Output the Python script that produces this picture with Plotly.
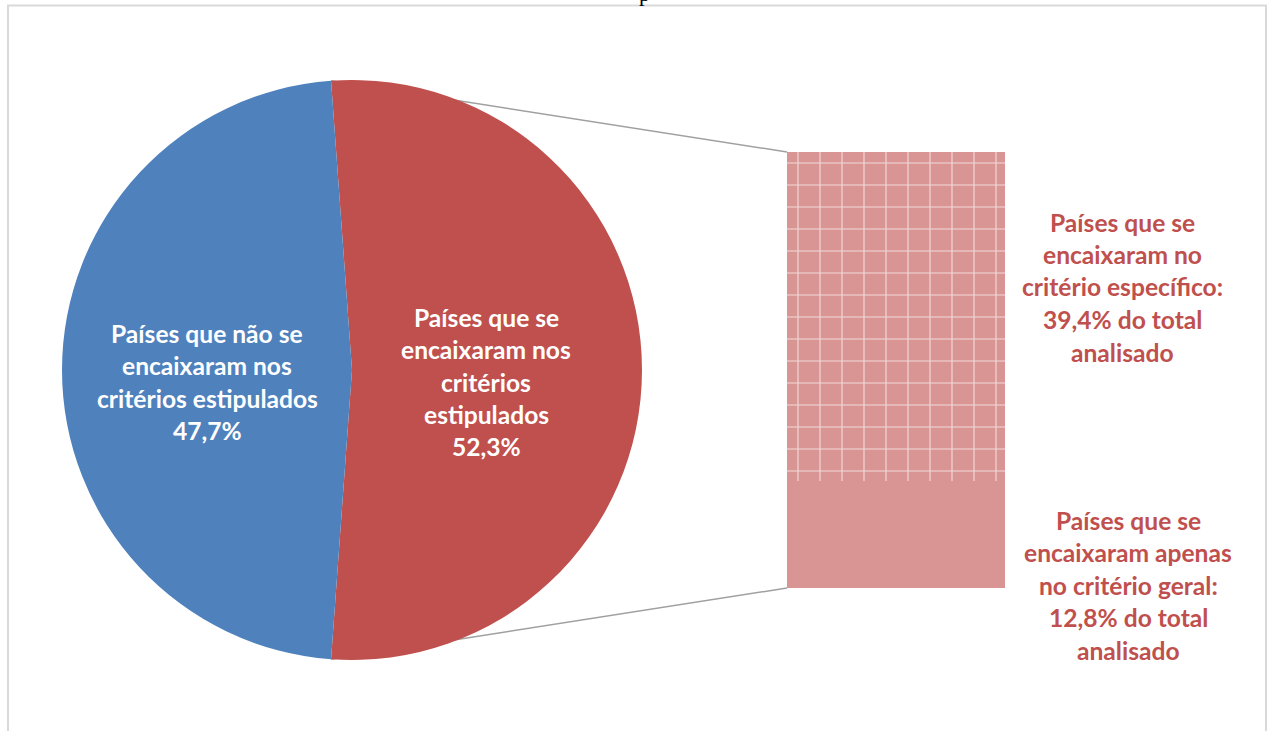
import math
import plotly.graph_objects as go

W, H = 1271, 731

# ---- data ----
pie_labels = ["Países que se<br>encaixaram nos<br>critérios<br>estipulados",
              "Países que não se<br>encaixaram nos<br>critérios estipulados"]
pie_values = [52.3, 47.7]
pie_colors = ["#C0504D", "#4F81BD"]

bar_labels = ["Países que se<br>encaixaram apenas<br>no critério geral:",
              "Países que se<br>encaixaram no<br>critério específico:"]
bar_values = [12.8, 39.4]
bar_suffix = "do total<br>analisado"
bar_color = "#D99594"
text_red = "#C0504D"

FONT = "Lato"

def px(x):
    return x / W

def py(y):
    return 1 - y / H

def fmt(v):
    return f"{v:.1f}".replace(".", ",") + "%"

# pie geometry (pixels)
cx, cy, r = 352, 370, 290
red_share = pie_values[0] / sum(pie_values)
rotation = -(red_share * 360 - 180) / 2

fig = go.Figure()

fig.add_trace(go.Pie(
    values=pie_values,
    labels=[l.replace("<br>", " ") for l in pie_labels],
    marker=dict(colors=pie_colors, line=dict(width=0)),
    sort=False, direction="clockwise", rotation=rotation,
    textinfo="none", hoverinfo="label+percent", showlegend=False,
    domain=dict(x=[px(cx - r), px(cx + r)], y=[py(cy + r), py(cy - r)]),
))

# bar of pie (stacked)
bx0, bx1, by0, by1 = 787, 1005, 152, 588
fig.add_trace(go.Bar(
    x=[0], y=[bar_values[0]], width=1, showlegend=False,
    marker=dict(color=bar_color, line=dict(width=0)),
    name=bar_labels[0].replace("<br>", " "),
))
fig.add_trace(go.Bar(
    x=[0], y=[bar_values[1]], width=1, showlegend=False,
    marker=dict(color=bar_color, line=dict(width=0),
                pattern=dict(shape="+", fgcolor="white", bgcolor=bar_color,
                             size=22, solidity=0.1, fgopacity=0.65)),
    name=bar_labels[1].replace("<br>", " "),
))

annotations = []

def add_lines(text, xc, yc, color, spacing=32.5, size=24.6):
    lines = text.split("<br>")
    n = len(lines)
    for i, ln in enumerate(lines):
        yy = yc + (i - (n - 1) / 2) * spacing
        annotations.append(dict(
            text=f"<b>{ln}</b>", x=px(xc), y=py(yy), xref="paper", yref="paper",
            xanchor="center", yanchor="middle", showarrow=False,
            font=dict(family=FONT, size=size, color=color)))

# pie labels
add_lines(pie_labels[0] + "<br>" + fmt(pie_values[0]), 486, 382, "white")
add_lines(pie_labels[1] + "<br>" + fmt(pie_values[1]), 207, 382, "white")
# bar labels
add_lines(bar_labels[1] + "<br>" + fmt(bar_values[1]) + " " + bar_suffix, 1122, 287, text_red)
add_lines(bar_labels[0] + "<br>" + fmt(bar_values[0]) + " " + bar_suffix, 1128, 585, text_red)

# title fragment (cut off at the top of the picture)
annotations.append(dict(text="p", x=px(644), y=py(8), xref="paper", yref="paper",
                        xanchor="center", yanchor="bottom", showarrow=False,
                        font=dict(family="Liberation Serif", size=22, color="black")))

# connector lines from pie split points to bar corners
a0 = math.radians(rotation)
a1 = math.radians(rotation + red_share * 360)
p_top = (cx + r * math.sin(a0), cy - r * math.cos(a0))
p_bot = (cx + r * math.sin(a1), cy - r * math.cos(a1))
shapes = [
    dict(type="line", xref="paper", yref="paper", layer="below",
         x0=px(p_top[0]), y0=py(p_top[1]), x1=px(bx0), y1=py(by0),
         line=dict(color="#A0A0A0", width=1.5)),
    dict(type="line", xref="paper", yref="paper", layer="below",
         x0=px(p_bot[0]), y0=py(p_bot[1]), x1=px(bx0), y1=py(by1),
         line=dict(color="#A0A0A0", width=1.5)),
    dict(type="rect", xref="paper", yref="paper", layer="below",
         x0=px(8), x1=px(1266), y0=-0.05, y1=py(5.5),
         line=dict(color="#D9D9D9", width=2), fillcolor="rgba(0,0,0,0)"),
]

fig.update_layout(
    width=W, height=H, margin=dict(l=0, r=0, t=0, b=0),
    paper_bgcolor="white", plot_bgcolor="rgba(0,0,0,0)",
    barmode="stack", bargap=0,
    xaxis=dict(domain=[px(bx0), px(bx1)], range=[-0.5, 0.5], visible=False, fixedrange=True),
    yaxis=dict(domain=[py(by1), py(by0)], range=[0, sum(bar_values)], visible=False, fixedrange=True),
    annotations=annotations, shapes=shapes,
    font=dict(family=FONT),
)

fig.write_html("out.html", config={"displayModeBar": False},
               post_script="document.body.style.margin='0';")
